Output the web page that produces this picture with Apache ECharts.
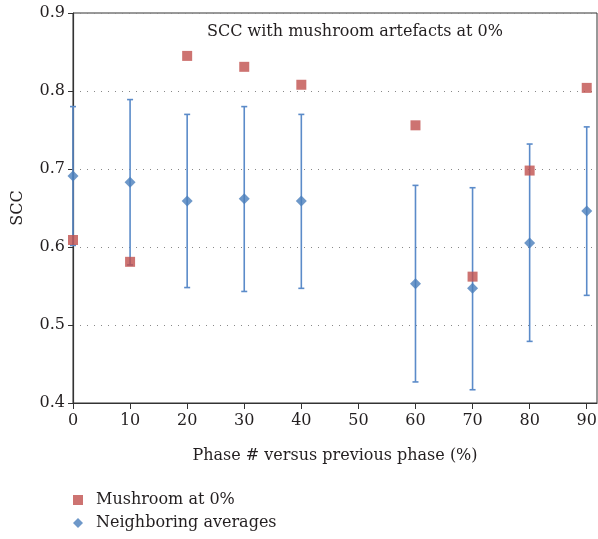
<!DOCTYPE html>
<html>
<head>
<meta charset="utf-8">
<script src="https://cdn.jsdelivr.net/npm/echarts@6/dist/echarts.min.js"></script>
<style>
  html, body { margin: 0; padding: 0; background: #fff; }
  #demo { width: 598px; height: 539px; }
</style>
</head>
<body>
<div id="demo"></div>
<script>
// phases on the x axis
var phases = [0, 10, 20, 30, 40, 60, 70, 80, 90];
// red squares
var mushroom = [0.609, 0.581, 0.845, 0.831, 0.808, 0.756, 0.562, 0.698, 0.804];
// blue diamonds and their error bars
var neighborAvg = [0.691, 0.683, 0.659, 0.662, 0.659, 0.553, 0.547, 0.605, 0.646];
var errLow = [0.602, 0.577, 0.548, 0.543, 0.547, 0.427, 0.417, 0.479, 0.538];
var errHigh = [0.780, 0.789, 0.770, 0.780, 0.770, 0.679, 0.676, 0.732, 0.754];

var font = 'DejaVu Serif';
var txt = '#231f20';
var fs = 16;

var myChart = echarts.init(document.getElementById('demo'));

var squareData = [], diamondData = [], errData = [];
for (var i = 0; i < phases.length; i++) {
    squareData.push([phases[i], mushroom[i]]);
    diamondData.push([phases[i], neighborAvg[i]]);
    errData.push([phases[i], errLow[i], errHigh[i]]);
}

var legendText = { fontFamily: font, fontSize: fs, color: txt, padding: [0, 0, 0, 8] };

var option = {
    animation: false,
    backgroundColor: '#fff',
    title: {
        text: 'SCC with mushroom artefacts at 0%',
        left: 350,
        top: 19,
        textAlign: 'center',
        textStyle: { fontFamily: font, fontSize: fs, fontWeight: 'normal', color: txt }
    },
    grid: {
        left: 73,
        top: 13,
        right: 1,
        bottom: 136,
        outerBoundsMode: 'none',
        show: true,
        borderColor: '#333',
        borderWidth: 1
    },
    // two separate legends so the items stack
    legend: [
        {
            left: 68,
            top: 487,
            itemWidth: 10,
            itemHeight: 10,
            textStyle: legendText,
            data: [{ name: 'Mushroom at 0%', icon: 'rect' }]
        },
        {
            left: 68,
            top: 510,
            itemWidth: 10,
            itemHeight: 10,
            textStyle: legendText,
            data: [{ name: 'Neighboring averages', icon: 'diamond' }]
        }
    ],
    xAxis: {
        type: 'value',
        min: 0,
        max: 91.8,
        interval: 10,
        name: 'Phase # versus previous phase (%)',
        nameLocation: 'middle',
        nameGap: 45,
        nameTextStyle: { fontFamily: font, fontSize: fs, color: txt },
        axisLine: { show: true, lineStyle: { color: '#333', width: 1.2 } },
        axisTick: { show: true, length: 6, lineStyle: { color: '#333' } },
        axisLabel: {
            fontFamily: font, fontSize: fs, color: txt, margin: 10,
            showMaxLabel: false,
            formatter: function (v) { return Math.abs(v % 10) < 1e-6 ? String(Math.round(v)) : ''; }
        },
        splitLine: { show: false }
    },
    yAxis: {
        type: 'value',
        min: 0.4,
        max: 0.9,
        interval: 0.1,
        name: 'SCC',
        nameLocation: 'middle',
        nameGap: 47,
        nameTextStyle: { fontFamily: font, fontSize: fs, color: txt },
        axisLine: { show: true, lineStyle: { color: '#333', width: 1.2 } },
        axisTick: { show: true, length: 5, lineStyle: { color: '#333' } },
        axisLabel: {
            fontFamily: font, fontSize: fs, color: txt, margin: 8,
            formatter: function (v) { return v.toFixed(1); }
        },
        splitLine: { show: true, lineStyle: { color: '#888', type: [1, 6], width: 1 } }
    },
    series: [
        {
            name: 'errorbars',
            type: 'custom',
            clip: false,
            z: 2,
            renderItem: function (params, api) {
                var x = api.value(0);
                var lo = api.coord([x, api.value(1)]);
                var hi = api.coord([x, api.value(2)]);
                var w = 3;
                var st = { stroke: '#5b8bc9', lineWidth: 1.6 };
                return {
                    type: 'group',
                    children: [
                        { type: 'line', shape: { x1: lo[0], y1: lo[1], x2: hi[0], y2: hi[1] }, style: st },
                        { type: 'line', shape: { x1: lo[0] - w, y1: lo[1], x2: lo[0] + w, y2: lo[1] }, style: st },
                        { type: 'line', shape: { x1: hi[0] - w, y1: hi[1], x2: hi[0] + w, y2: hi[1] }, style: st }
                    ]
                };
            },
            encode: { x: 0, y: [1, 2] },
            data: errData
        },
        {
            name: 'Neighboring averages',
            type: 'scatter',
            symbol: 'diamond',
            symbolSize: 11,
            clip: false,
            z: 3,
            itemStyle: { color: '#4a7ebb' },
            data: diamondData
        },
        {
            name: 'Mushroom at 0%',
            type: 'scatter',
            symbol: 'rect',
            symbolSize: 10,
            clip: false,
            z: 4,
            itemStyle: { color: '#c0504d' },
            data: squareData
        }
    ]
};

myChart.setOption(option);
</script>
</body>
</html>
